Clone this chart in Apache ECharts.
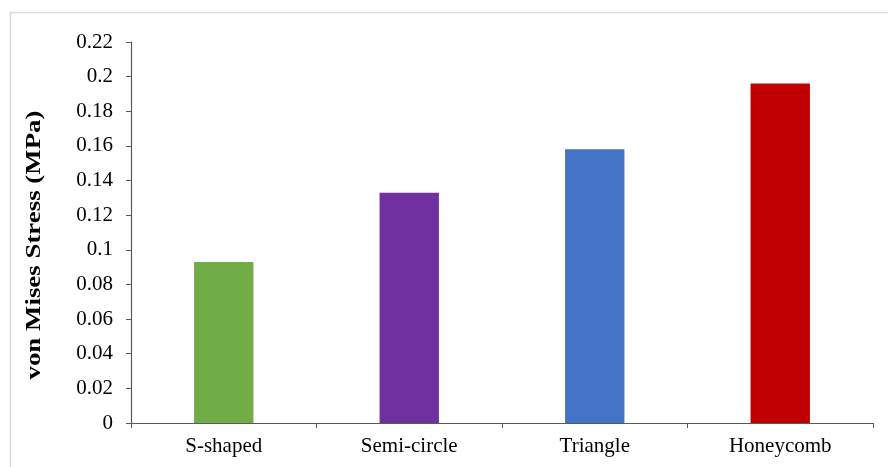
<!DOCTYPE html>
<html>
<head>
<meta charset="utf-8">
<script src="https://cdn.jsdelivr.net/npm/echarts@6/dist/echarts.min.js"></script>
<style>
  html, body { margin: 0; padding: 0; background: #ffffff; }
  #chart { width: 888px; height: 467px; }
</style>
</head>
<body>
<div id="chart"></div>
<script>
// Stress results per infill pattern
const categories = ['S-shaped', 'Semi-circle', 'Triangle', 'Honeycomb'];
const stressValues = [0.093, 0.133, 0.158, 0.196];
const barColors = ['#70AD47', '#7030A0', '#4472C4', '#C00000'];
const yTicks = { min: 0, max: 0.22, step: 0.02 };
const yTitle = 'von Mises Stress (MPa)';

const chart = echarts.init(document.getElementById('chart'));
const font = '"Liberation Serif", "Times New Roman", serif';

chart.setOption({
  animation: false,
  backgroundColor: '#ffffff',
  graphic: [{
    type: 'rect',
    shape: { x: 10.5, y: 12.5, width: 900, height: 500 },
    style: { fill: 'none', stroke: '#d9d9d9', lineWidth: 1.5 },
    silent: true
  }, {
    // vertical axis title, stretched along its reading direction
    type: 'text',
    x: 35,
    y: 245,
    rotation: Math.PI / 2,
    scaleX: 1.28,
    style: {
      text: yTitle,
      fill: '#000',
      font: 'bold 21px ' + font,
      align: 'center',
      verticalAlign: 'middle'
    },
    silent: true
  }],
  grid: { left: 131, right: 15, top: 42, bottom: 44, containLabel: false },
  xAxis: {
    type: 'category',
    data: categories,
    axisLine: { lineStyle: { color: '#595959', width: 1.2 } },
    axisTick: { show: true, alignWithLabel: false, length: 5, lineStyle: { color: '#595959' } },
    axisLabel: { color: '#000', fontFamily: font, fontSize: 21, margin: 13 }
  },
  yAxis: {
    type: 'value',
    min: yTicks.min,
    max: yTicks.max,
    interval: yTicks.step,
    axisLine: { show: true, lineStyle: { color: '#595959', width: 1.2 } },
    axisTick: { show: true, length: 5, lineStyle: { color: '#595959' } },
    splitLine: { show: false },
    axisLabel: {
      color: '#000', fontFamily: font, fontSize: 21, margin: 18,
      formatter: v => String(parseFloat(v.toFixed(2)))
    }
  },
  series: [{
    type: 'bar',
    barWidth: '32%',
    data: stressValues.map((v, i) => ({ value: v, itemStyle: { color: barColors[i] } }))
  }]
});
</script>
</body>
</html>
